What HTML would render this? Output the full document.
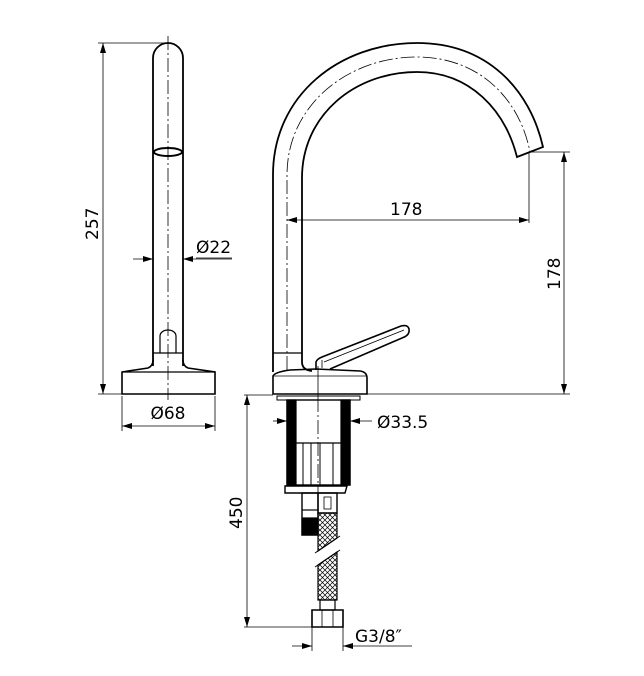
<!DOCTYPE html>
<html><head><meta charset="utf-8"><style>
html,body{margin:0;padding:0;background:#fff;}
svg{display:block;}
text{font-family:"DejaVu Sans","Liberation Sans",sans-serif;font-size:17px;fill:#000;}
</style></head><body>
<svg width="644" height="676" viewBox="0 0 644 676" xmlns="http://www.w3.org/2000/svg">
<defs>
<marker id="a" viewBox="0 0 10 6" refX="10" refY="3" markerWidth="10" markerHeight="6" orient="auto-start-reverse" markerUnits="userSpaceOnUse"><path d="M0,0 L10,3 L0,6 Z" fill="#000"/></marker>
<pattern id="h" width="5" height="5" patternUnits="userSpaceOnUse"><path d="M0,0 L5,5 M5,0 L0,5" stroke="#000" stroke-width="0.7"/></pattern>
</defs>
<g fill="none" stroke="#000" stroke-width="1.2">
<!-- LEFT VIEW -->
<path d="M153,366 L153,58 A15,15 0 0 1 183,58 L183,366" stroke-width="1.8"/>
<ellipse cx="168" cy="152" rx="14" ry="4" stroke-width="2"/>
<path d="M160,353 L160,336 A8,6 0 0 1 176,336 L176,353"/>
<line x1="153" y1="353" x2="183" y2="353"/>
<path d="M153,360 Q153,366 148,368 L122,372 L122,394 L215,394 L215,372 L188,368 Q183,366 183,360" stroke-width="1.6"/>
<line x1="122" y1="372" x2="215" y2="372"/>
<line x1="168" y1="36" x2="168" y2="400" stroke-width="0.8" stroke-dasharray="14,3,2,3"/>
<!-- 257 -->
<line x1="98" y1="43" x2="165" y2="43" stroke-width="0.8"/>
<line x1="98" y1="394" x2="122" y2="394" stroke-width="0.8"/>
<line x1="103" y1="43" x2="103" y2="394" stroke-width="0.8" marker-start="url(#a)" marker-end="url(#a)"/>
<!-- Ø22 -->
<line x1="133" y1="259" x2="153" y2="259" stroke-width="0.8" marker-end="url(#a)"/>
<line x1="232" y1="259" x2="183" y2="259" stroke-width="0.8" marker-end="url(#a)"/>
<!-- Ø68 -->
<line x1="122" y1="396" x2="122" y2="431" stroke-width="0.8"/>
<line x1="215" y1="396" x2="215" y2="431" stroke-width="0.8"/>
<line x1="122" y1="426" x2="215" y2="426" stroke-width="0.8" marker-start="url(#a)" marker-end="url(#a)"/>

<!-- RIGHT VIEW spout -->
<path d="M273,372 L273,175 C273,95 340,43 417,43 C488,43 530,90 543,147 L517,157 C505,110 470,72 417,72 C355,72 302,115 302,178 L302,362 Q302,370 312,371" stroke-width="1.8"/>
<line x1="273" y1="353" x2="302" y2="353"/>
<path d="M287,370 L287,175 C287,105 348,57 417,57 C480,57 520,100 530,152" stroke-width="0.8" stroke-dasharray="14,3,2,3"/>
<!-- base -->
<path d="M273,394 L273,376 Q275,372 290,370 L316,369 L360,371 Q367,372 367,378 L367,394 Z" stroke-width="1.6"/>
<line x1="273" y1="376" x2="367" y2="376" stroke-width="0.8"/>
<!-- handle -->
<path d="M316,370 L316,362 Q317,359 322,357 L401,326 Q410,324 409,332 Q408,336 402,338 L330,369" stroke-width="1.6"/>
<path d="M322,368 L322,360 M324,362 L404,330" stroke-width="0.8"/>
<line x1="318" y1="366" x2="318" y2="398" stroke-width="0.8"/>
<!-- 178 horizontal -->
<line x1="529" y1="152" x2="529" y2="223" stroke-width="0.8"/>
<line x1="287" y1="220" x2="529" y2="220" stroke-width="0.8" marker-start="url(#a)" marker-end="url(#a)"/>
<!-- 178 vertical -->
<line x1="529" y1="152" x2="570" y2="152" stroke-width="0.8"/>
<line x1="367" y1="394" x2="570" y2="394" stroke-width="0.8"/>
<line x1="564" y1="152" x2="564" y2="394" stroke-width="0.8" marker-start="url(#a)" marker-end="url(#a)"/>

<!-- BELOW -->
<line x1="244" y1="395" x2="273" y2="395" stroke-width="0.8"/>
<rect x="277" y="396" width="83" height="4" stroke-width="1"/>
<rect x="287" y="400" width="63" height="85" stroke-width="1.4"/>
<rect x="287" y="400" width="9" height="85" fill="#000"/>
<rect x="341" y="400" width="9" height="85" fill="#000"/>
<line x1="296" y1="443" x2="341" y2="443"/>
<path d="M303,443 L303,485 M311,443 L311,485 M320,443 L320,485 M333,443 L333,485" stroke-width="1"/>
<path d="M285,486 L347,486 L345,493 L285,493 Z" stroke-width="1.4"/>
<line x1="318" y1="398" x2="318" y2="505" stroke-width="0.8" stroke-dasharray="14,3,2,3"/>
<!-- Ø33.5 -->
<line x1="273" y1="421" x2="287" y2="421" stroke-width="0.8" marker-end="url(#a)"/>
<line x1="372" y1="421" x2="350" y2="421" stroke-width="0.8" marker-end="url(#a)"/>
<!-- left fitting -->
<rect x="302" y="493" width="16" height="42" stroke-width="1.4"/>
<rect x="302" y="518" width="16" height="17" fill="#000"/>
<line x1="302" y1="510" x2="318" y2="510"/>
<!-- right hose -->
<rect x="318" y="493" width="19" height="20" stroke-width="1.4"/>
<rect x="324" y="497" width="7" height="12" stroke-width="0.8"/>
<path d="M318,513 L337,513 L337,538 L318,551 Z" fill="url(#h)"/>
<path d="M315,553 L340,536" stroke-width="1"/>
<path d="M318,565 L337,552 L337,600 L318,600 Z" fill="url(#h)"/>
<path d="M315,567 L340,550" stroke-width="1"/>
<rect x="320" y="600" width="15" height="10" stroke-width="1.2"/>
<path d="M312,610 L343,610 L343,627 L312,627 Z" stroke-width="1.6"/>
<path d="M322,610 L322,627 M333,610 L333,627" stroke-width="0.8"/>
<!-- 450 -->
<line x1="244" y1="627" x2="312" y2="627" stroke-width="0.8"/>
<line x1="247" y1="395" x2="247" y2="627" stroke-width="0.8" marker-start="url(#a)" marker-end="url(#a)"/>
<!-- G3/8 -->
<line x1="312" y1="627" x2="312" y2="651" stroke-width="0.8"/>
<line x1="343" y1="627" x2="343" y2="651" stroke-width="0.8"/>
<line x1="292" y1="646" x2="312" y2="646" stroke-width="0.8" marker-end="url(#a)"/>
<line x1="412" y1="646" x2="343" y2="646" stroke-width="0.8" marker-end="url(#a)"/>
</g>
<text x="0" y="0" transform="translate(98,240) rotate(-90)">257</text>
<text x="196" y="253">Ø22</text>
<line x1="196" y1="258" x2="232" y2="258" stroke="#000" stroke-width="0.8"/>
<text x="168" y="419" text-anchor="middle">Ø68</text>
<text x="390" y="215">178</text>
<text x="0" y="0" transform="translate(560,290) rotate(-90)">178</text>
<text x="377" y="428">Ø33.5</text>
<text x="0" y="0" transform="translate(242,529) rotate(-90)">450</text>
<text x="355" y="642">G3/8″</text>
</svg>
</body></html>
